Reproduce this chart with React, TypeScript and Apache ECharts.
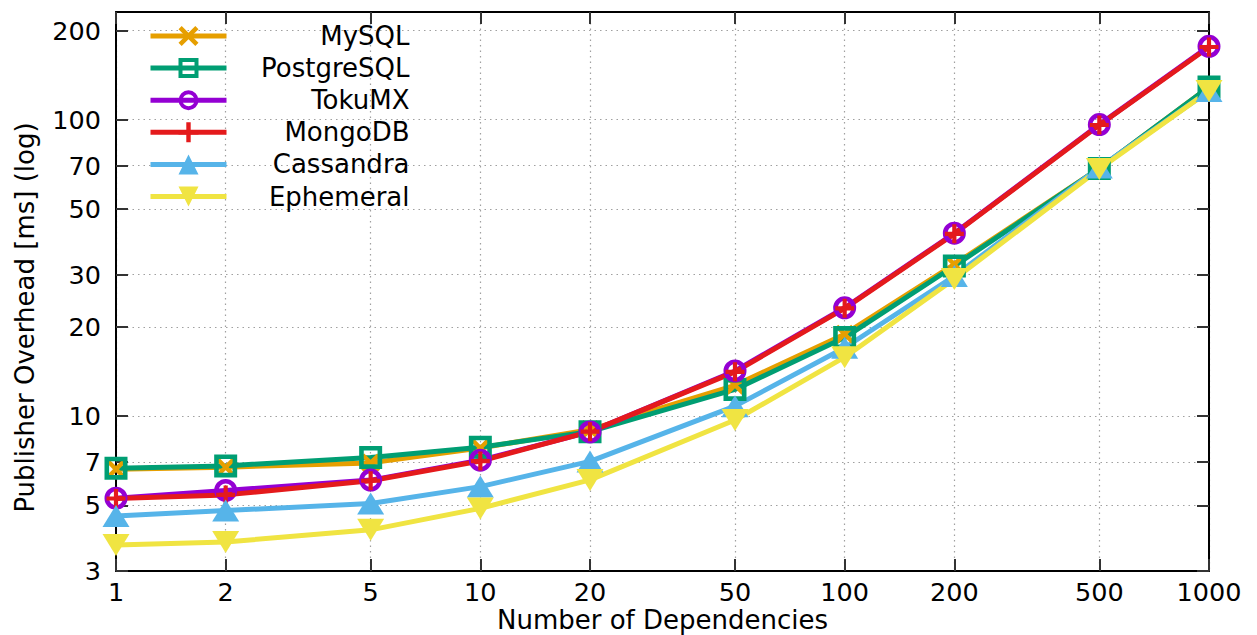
import React, { useEffect, useRef } from "react";
import * as echarts from "echarts";

const dependencies = [1, 2, 5, 10, 20, 50, 100, 200, 500, 1000];
const xTickLabels = [1, 2, 5, 10, 20, 50, 100, 200, 500, 1000];
const yTickLabels = [3, 5, 7, 10, 20, 30, 50, 70, 100, 200];
const yMin = 3;
const yMax = 231;

const seriesNames = ["MySQL", "PostgreSQL", "TokuMX", "MongoDB", "Cassandra", "Ephemeral"];
const mysql = [6.62, 6.72, 6.95, 7.8, 9.0, 12.7, 18.9, 32.5, 68.5, 129];
const postgresql = [6.67, 6.79, 7.25, 7.85, 8.86, 12.3, 18.4, 32.1, 68.5, 129];
const tokumx = [5.28, 5.61, 6.08, 7.1, 8.84, 14.2, 23.2, 41.4, 96.3, 177];
const mongodb = [5.27, 5.42, 6.05, 7.05, 8.86, 14.1, 23.1, 41.2, 96, 176];
const cassandra = [4.6, 4.8, 5.07, 5.78, 7.03, 10.8, 17.0, 29.7, 69, 125];
const ephemeral = [3.67, 3.76, 4.13, 4.88, 6.09, 9.7, 15.8, 29.0, 68.2, 125];

const colors = ["#E69F00", "#009E73", "#9400D3", "#E41A1C", "#56B4E9", "#F0E442"];

const FONT = "DejaVu Sans";
const FS = 26;
const lg = (v: number) => Math.log10(v);

const SYM_X =
  "path://M0,1.6L1.6,0L5,3.4L8.4,0L10,1.6L6.6,5L10,8.4L8.4,10L5,6.6L1.6,10L0,8.4L3.4,5Z";
const SYM_SQ = "path://M0,0H10V10H0ZM2,2V8H8V2Z";
const SYM_CIRC =
  "path://M5,0A5,5 0 1 1 5,10A5,5 0 1 1 5,0ZM5,2A3,3 0 1 0 5,8A3,3 0 1 0 5,2Z";
const SYM_PLUS = "path://M3.9,0H6.1V3.9H10V6.1H6.1V10H3.9V6.1H0V3.9H3.9Z";

export default function App() {
  const ref = useRef<HTMLDivElement>(null);

  useEffect(() => {
    if (!ref.current) return;
    const chart = echarts.init(ref.current, undefined, { renderer: "svg" });

    const values = [mysql, postgresql, tokumx, mongodb, cassandra, ephemeral];
    const symbols = [SYM_X, SYM_SQ, SYM_CIRC, SYM_PLUS, "triangle", "triangle"];
    const sizes: any[] = [19, 23, 23, 19, [27, 22], [27, 22]];
    const rotates = [0, 0, 0, 0, 0, 180];

    const xTicks = xTickLabels.map(lg);
    const yTicks = yTickLabels.map(lg);

    const fmt = (v: number) => String(Math.round(Math.pow(10, v)));

    const tickStyle = { show: true, inside: true, length: 12, lineStyle: { color: "#333", width: 2 } };
    const axisLine = { show: true, onZero: false, lineStyle: { color: "#000", width: 2 } };

    const series = seriesNames.map((name, i) => ({
      name,
      type: "line",
      data: dependencies.map((d, j) => [lg(d), lg(values[i][j])]),
      symbol: symbols[i],
      symbolSize: sizes[i],
      symbolRotate: rotates[i],
      showAllSymbol: true,
      lineStyle: { width: 5, color: colors[i] },
      itemStyle: { color: colors[i] },
      emphasis: { disabled: true },
      z: 2,
    }));

    chart.setOption({
      animation: false,
      backgroundColor: "#fff",
      textStyle: { fontFamily: FONT },
      grid: {
        left: 116,
        top: 12,
        width: 1093,
        height: 559,
        containLabel: false,
        outerBoundsMode: "none",
      },
      legend: {
        show: true,
        orient: "vertical",
        left: 148,
        top: 23,
        padding: 0,
        itemWidth: 76,
        itemHeight: 25,
        itemGap: 6.1,
        selectedMode: false,
        lineStyle: { width: 5 },
        formatter: (name: string) => `{a|${name}}`,
        textStyle: {
          fontSize: FS,
          lineHeight: 25,
          fontFamily: FONT,
          color: "#000",
          rich: {
            a: { width: 178, height: 25, lineHeight: 25, align: "right", fontSize: FS, fontFamily: FONT, color: "#000" },
          },
        },
        data: seriesNames,
      },
      xAxis: [
        {
          type: "value",
          min: 0,
          max: 3,
          position: "bottom",
          name: "Number of Dependencies",
          nameLocation: "middle",
          nameGap: 36,
          nameMoveOverlap: false,
          nameTextStyle: { fontSize: FS, lineHeight: 26, fontFamily: FONT, color: "#000" },
          axisLine,
          axisTick: { ...tickStyle, customValues: xTicks },
          axisLabel: {
            customValues: xTicks,
            formatter: fmt,
            fontSize: 25.5,
            lineHeight: 24,
            fontFamily: FONT,
            color: "#000",
            margin: 9,
          },
          splitLine: { show: true, lineStyle: { color: "#a0a0a0", width: 1.2, type: [1.5, 4] } },
        },
        {
          type: "value",
          min: 0,
          max: 3,
          position: "top",
          axisLine,
          axisTick: { ...tickStyle, customValues: xTicks },
          axisLabel: { show: false, customValues: xTicks },
          splitLine: { show: false },
        },
      ],
      yAxis: [
        {
          type: "value",
          min: lg(yMin),
          max: lg(yMax),
          position: "left",
          name: "Publisher Overhead [ms] (log)",
          nameLocation: "middle",
          nameGap: 78,
          nameMoveOverlap: false,
          nameTextStyle: { fontSize: FS, fontFamily: FONT, color: "#000", padding: [0, 52, 0, 0] },
          axisLine,
          axisTick: { ...tickStyle, customValues: yTicks },
          axisLabel: {
            customValues: yTicks,
            formatter: fmt,
            fontSize: 25.5,
            fontFamily: FONT,
            color: "#000",
            margin: 15,
          },
          splitLine: { show: true, lineStyle: { color: "#a0a0a0", width: 1.2, type: [1.5, 4] } },
        },
        {
          type: "value",
          min: lg(yMin),
          max: lg(yMax),
          position: "right",
          axisLine,
          axisTick: { ...tickStyle, customValues: yTicks },
          axisLabel: { show: false, customValues: yTicks },
          splitLine: { show: false },
        },
      ],
      series,
    });

    return () => chart.dispose();
  }, []);

  return <div ref={ref} style={{ width: 1257, height: 635, position: "absolute", left: 0, top: 0 }} />;
}
